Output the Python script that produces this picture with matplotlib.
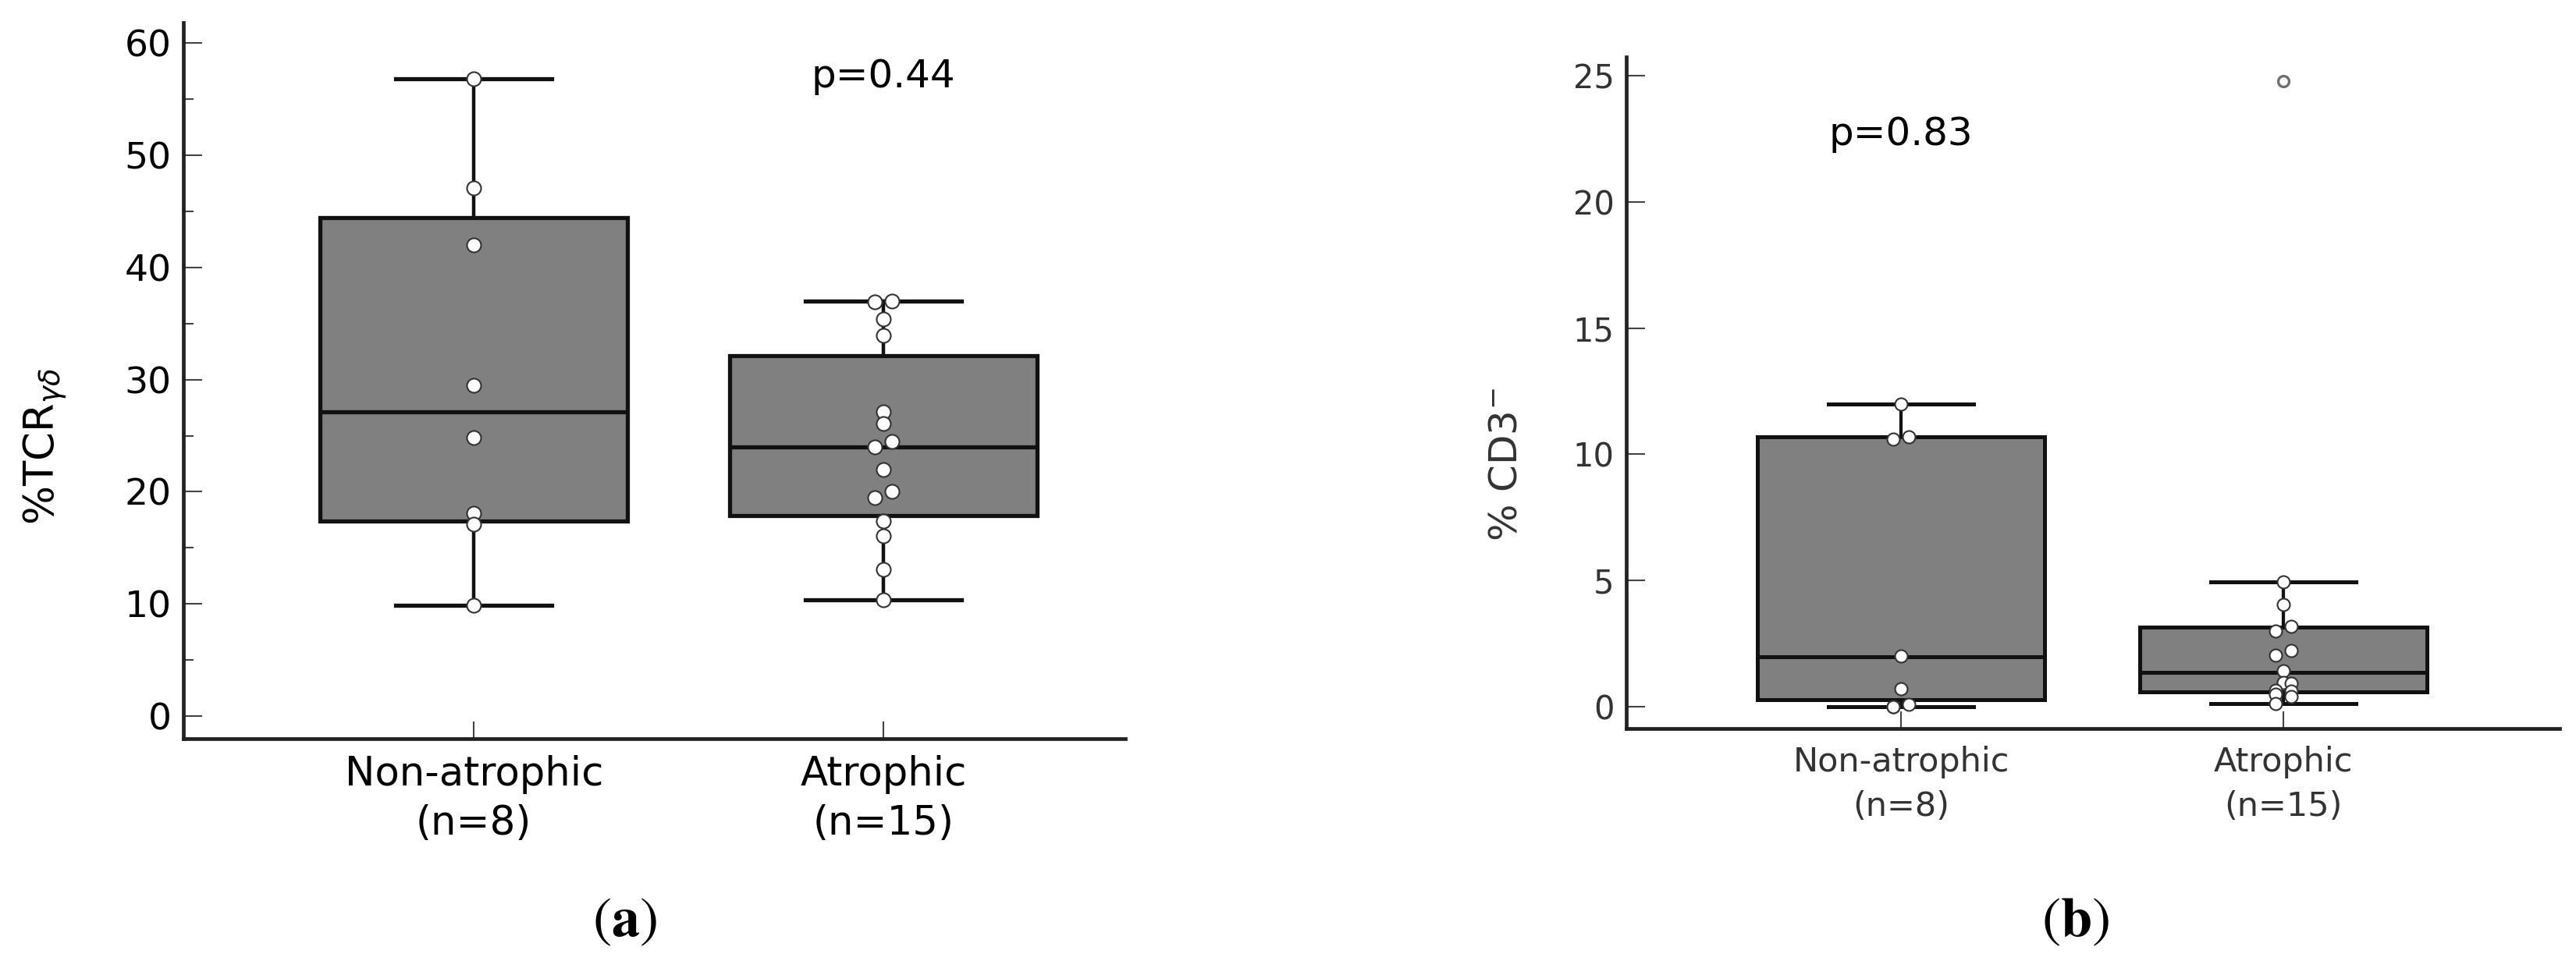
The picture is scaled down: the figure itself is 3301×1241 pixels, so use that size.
import matplotlib
matplotlib.use('Agg')
import matplotlib.pyplot as plt
import numpy as np
from matplotlib.ticker import MultipleLocator

# ---- data ----
groups = ['Non-atrophic\n(n=8)', 'Atrophic\n(n=15)']

# (a) %TCR gamma-delta
tcr_nonatr = [56.8, 47.1, 42.0, 29.5, 24.8, 18.1, 17.1, 9.9]
tcr_atr = [37.0, 36.9, 35.4, 33.9, 27.1, 26.1, 24.5, 24.0, 22.0, 20.0, 19.5,
           17.4, 16.1, 13.1, 10.4]
# box stats: q1, median, q3, lower whisker, upper whisker
tcr_box = [(17.4, 27.1, 44.4, 9.9, 56.8), (17.9, 24.0, 32.1, 10.4, 37.0)]
tcr_p = 'p=0.44'

# (b) % CD3-
cd3_nonatr = [12.0, 10.7, 10.6, 2.0, 0.7, 0.1, 0.0, 0.0]
cd3_atr = [24.8, 4.95, 4.05, 3.18, 3.0, 2.22, 2.04, 1.42, 0.96, 0.91, 0.65,
           0.6, 0.49, 0.4, 0.13]
cd3_box = [(0.28, 1.98, 10.7, 0.0, 12.0), (0.59, 1.36, 3.15, 0.12, 4.95)]
cd3_p = 'p=0.83'


def make_stats(box, vals):
    q1, med, q3, lo, hi = box
    fl = [v for v in vals if v < lo - 1e-9 or v > hi + 1e-9]
    return dict(q1=q1, med=med, q3=q3, whislo=lo, whishi=hi, fliers=fl)


def swarm(ax, vals, pos, coll_px, step_px):
    # rough beeswarm in pixel space, equal values share one spot
    trans = ax.transData
    px_per_x = trans.transform((1, 0))[0] - trans.transform((0, 0))[0]
    uniq = sorted(set(vals))
    placed = []  # [value, dx_px, y_px]
    for v in uniq:
        y = trans.transform((0, v))[1]
        hits = [p for p in placed if np.hypot(p[1], p[2] - y) < coll_px]
        if not hits:
            dx = 0.0
        elif len(hits) == 1 and hits[0][1] == 0:
            hits[0][1] = -step_px / 2
            dx = step_px / 2
        else:
            cands = [c * step_px for c in (0, -0.5, 0.5, -1, 1)]
            best, bestd = 0.0, -1
            dx = None
            for c in cands:
                d = min(np.hypot(p[1] - c, p[2] - y) for p in placed)
                if d >= coll_px:
                    dx = c
                    break
                if d > bestd:
                    best, bestd = c, d
            if dx is None:
                dx = best
        placed.append([v, dx, y])
    where = {p[0]: pos + p[1] / px_per_x for p in placed}
    return [where[v] for v in vals]


W, H = 3301, 1241
fig = plt.figure(figsize=(W / 100, H / 100), dpi=100)

def px_axes(l, r, t, b):
    return fig.add_axes([l / W, 1 - b / H, (r - l) / W, (b - t) / H])

ax1 = px_axes(235, 1442, 29, 947)
ax2 = px_axes(2084, 3280, 73, 934)

panels = [
    (ax1, [tcr_nonatr, tcr_atr], tcr_box, (-2, 61.8), (-0.709, 1.59), 10, 5,
     tcr_p, (1, 57), 36, 34, 37, 3.8, 13, 12, 22, 15, 1.35),
    (ax2, [cd3_nonatr, cd3_atr], cd3_box, (-0.87, 25.75), (-0.718, 1.722), 5, None,
     cd3_p, (0, 22.7), 36, 30, 31, 3.6, 11.5, 9, 20, 16, 1.45),
]

for (ax, data, boxes, ylim, xlim, major, minor, ptxt, ppos,
     pfs, tfs, cfs, lw, ms, coll, step, xpad, lsp) in panels:
    ax.set_xlim(*xlim)
    ax.set_ylim(*ylim)
    stats = [make_stats(b, v) for b, v in zip(boxes, data)]
    ax.bxp(stats, positions=[0, 1], widths=0.75, patch_artist=True,
           capwidths=0.38, showfliers=True,
           boxprops=dict(facecolor='#808080', edgecolor='#111111', linewidth=lw),
           whiskerprops=dict(color='#111111', linewidth=lw * 0.85),
           capprops=dict(color='#111111', linewidth=lw),
           medianprops=dict(color='#111111', linewidth=lw),
           flierprops=dict(marker='o', markerfacecolor='white',
                           markeredgecolor='#707070', markersize=10,
                           markeredgewidth=2.4))
    for k, vals in enumerate(data):
        lo, hi = boxes[k][3], boxes[k][4]
        inner = [v for v in vals if lo - 1e-9 <= v <= hi + 1e-9]
        xs = swarm(ax, inner, k, coll, step)
        ax.plot(xs, inner, 'o', ls='none', mfc='white', mec='#333333',
                ms=ms, mew=1.5, zorder=5)

    ax.text(ppos[0], ppos[1], ptxt, ha='center', va='center', fontsize=pfs)

    for s in ['top', 'right']:
        ax.spines[s].set_visible(False)
    for s in ['left', 'bottom']:
        ax.spines[s].set_linewidth(3.4)
        ax.spines[s].set_color('#222222')

    ax.yaxis.set_major_locator(MultipleLocator(major))
    if minor:
        ax.yaxis.set_minor_locator(MultipleLocator(minor))
    ax.set_ylim(*ylim)
    ax.tick_params(axis='y', which='major', direction='in', length=17,
                   width=1.5, color='#444444', labelsize=tfs, pad=11)
    ax.tick_params(axis='y', which='minor', direction='in', length=9,
                   width=1.5, color='#444444')
    ax.set_xticks([0, 1])
    ax.set_xticklabels(groups, fontsize=cfs, linespacing=lsp)
    ax.tick_params(axis='x', direction='in', length=16, width=1.5,
                   color='#444444', pad=xpad)

ax2.tick_params(axis='y', labelcolor='#333333')
ax2.tick_params(axis='x', labelcolor='#333333')

ax1.text(-0.146, 0.408, r'%TCR$_{\gamma\delta}$', transform=ax1.transAxes,
         rotation=90, ha='center', va='center', fontsize=38,
         math_fontfamily='dejavusans')
ax2.text(-0.129, 0.393, r'% CD3$^{-}$', transform=ax2.transAxes,
         rotation=90, ha='center', va='center', fontsize=36, color='#333333',
         math_fontfamily='dejavusans')

fig.text(800 / W, 1 - 1181 / H, r'$(\mathbf{a})$', ha='center', va='center',
         fontsize=52, math_fontfamily='stix')
fig.text(2659 / W, 1 - 1181 / H, r'$(\mathbf{b})$', ha='center', va='center',
         fontsize=52, math_fontfamily='stix')

fig.savefig('out.png', dpi=100, facecolor='white')
